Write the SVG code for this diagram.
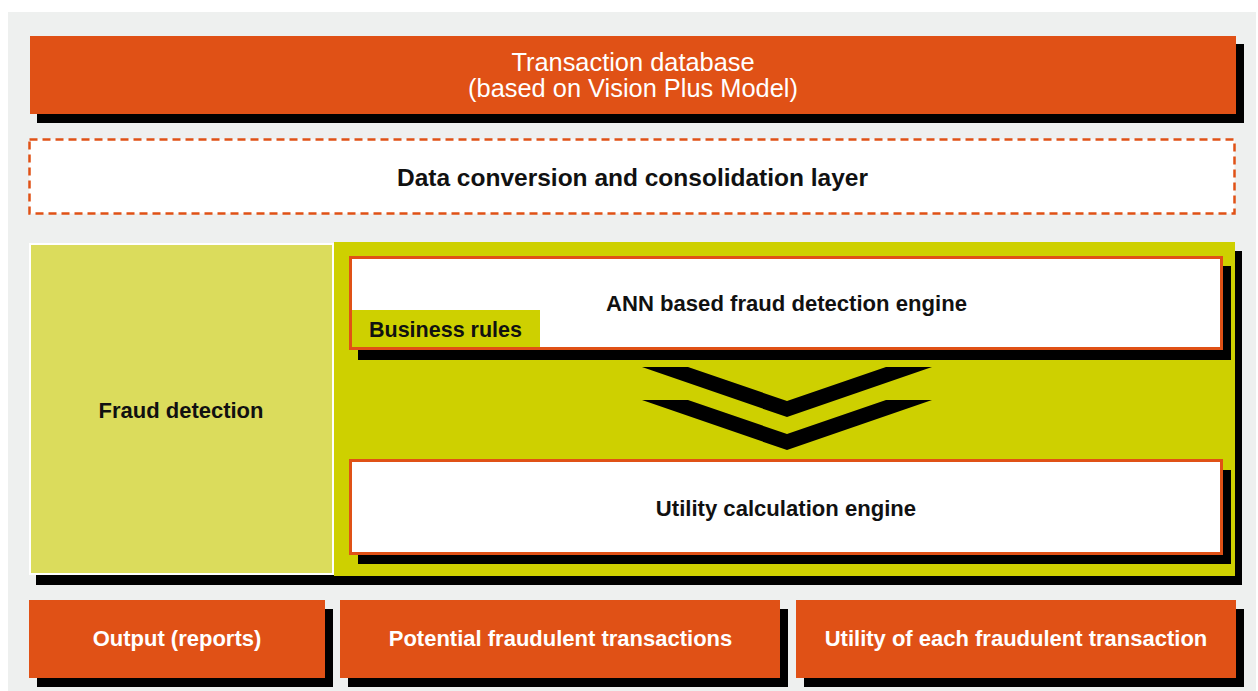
<svg xmlns="http://www.w3.org/2000/svg" width="1258" height="691" viewBox="0 0 1258 691">
  <style>
    .shadow { fill: #000000; }
    .orange { fill: #E05116; }
    .engine { fill: #FFFFFF; stroke: #E05116; stroke-width: 3; }
    .lbl { font-family: "Liberation Sans", Arial, Helvetica, sans-serif; font-weight: bold; fill: #111111; }
    .wlbl { font-family: "Liberation Sans", Arial, Helvetica, sans-serif; fill: #FFFFFF; }
    .chev { fill: #000000; }
  </style>
  <rect x="0" y="0" width="1258" height="691" fill="#FFFFFF"/>
  <rect x="8" y="12" width="1248" height="679" fill="#EEF0EF"/>

  <g id="transaction-database">
    <rect class="shadow" x="37" y="44" width="1207" height="79"/>
    <rect class="orange" x="30" y="36" width="1206" height="78"/>
    <text class="wlbl" x="633" y="71" font-size="25.4" text-anchor="middle">Transaction database</text>
    <text class="wlbl" x="633" y="97" font-size="25.4" text-anchor="middle">(based on Vision Plus Model)</text>
  </g>

  <g id="data-conversion-layer">
    <rect x="29.5" y="139.5" width="1205" height="74" fill="#FFFFFF" stroke="#E05116" stroke-width="2.5" stroke-dasharray="8 5"/>
    <text class="lbl" x="632.5" y="186" font-size="24.5" text-anchor="middle">Data conversion and consolidation layer</text>
  </g>

  <g id="detection-panel">
    <rect class="shadow" x="36" y="251" width="1206" height="334"/>
    <rect x="334" y="242" width="901" height="334" fill="#CED000"/>
  </g>

  <g id="fraud-detection">
    <rect x="30" y="244" width="303" height="330" fill="#DBDC5C" stroke="#FFFFFF" stroke-width="2"/>
    <text class="lbl" x="181" y="418" font-size="22" text-anchor="middle">Fraud detection</text>
  </g>

  <g id="ann-engine">
    <rect class="shadow" x="358" y="266" width="873" height="94"/>
    <rect class="engine" x="350.5" y="257.5" width="871" height="91"/>
    <text class="lbl" x="786.5" y="311" font-size="22.1" text-anchor="middle">ANN based fraud detection engine</text>
  </g>

  <g id="business-rules">
    <rect x="352" y="310" width="188" height="37" fill="#CED000"/>
    <text class="lbl" x="369" y="337" font-size="21.5">Business rules</text>
  </g>

  <g id="connectors">
    <polygon class="chev" points="642,367 688,367 787,401 886,367 932,367 787,417"/>
    <polygon class="chev" points="642,400 688,400 787,434 886,400 932,400 787,450"/>
  </g>

  <g id="utility-engine">
    <rect class="shadow" x="358" y="470" width="873" height="94"/>
    <rect class="engine" x="350.5" y="460.5" width="871" height="93"/>
    <text class="lbl" x="786" y="516" font-size="22.1" text-anchor="middle">Utility calculation engine</text>
  </g>

  <g id="output-reports">
    <rect class="shadow" x="37" y="609" width="296" height="78"/>
    <rect class="orange" x="29" y="600" width="296" height="78"/>
    <text class="wlbl" x="177" y="646" font-size="22" font-weight="bold" text-anchor="middle">Output (reports)</text>
  </g>

  <g id="potential-fraudulent">
    <rect class="shadow" x="348" y="609" width="440" height="78"/>
    <rect class="orange" x="340" y="600" width="440" height="78"/>
    <text class="wlbl" x="560.5" y="646" font-size="22" font-weight="bold" text-anchor="middle">Potential fraudulent transactions</text>
  </g>

  <g id="utility-each">
    <rect class="shadow" x="804" y="609" width="440" height="78"/>
    <rect class="orange" x="796" y="600" width="440" height="78"/>
    <text class="wlbl" x="1016" y="646" font-size="22" font-weight="bold" text-anchor="middle">Utility of each fraudulent transaction</text>
  </g>
</svg>
